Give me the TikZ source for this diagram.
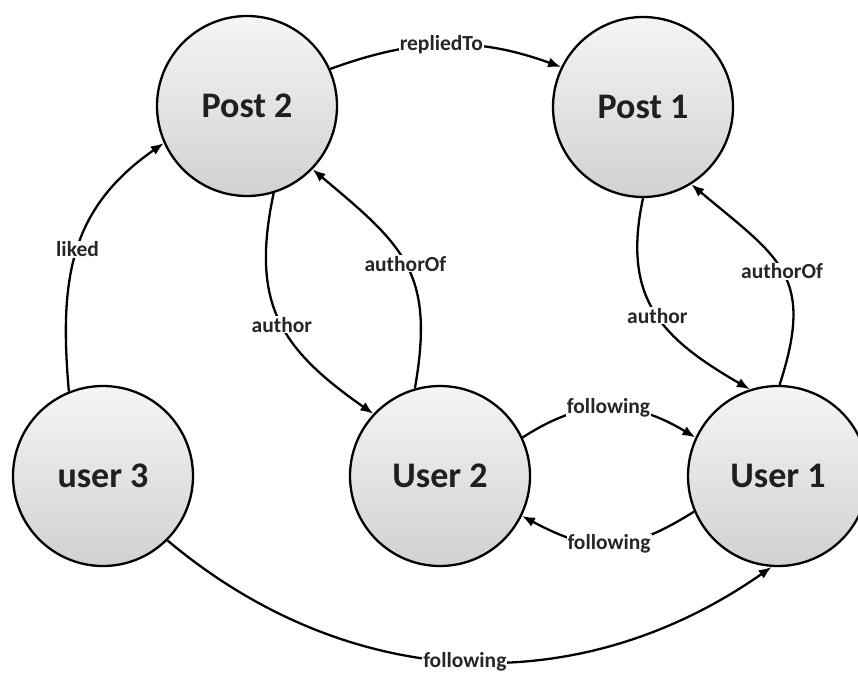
\documentclass[tikz,border=0pt]{standalone}
\usepackage{fontspec}
\setmainfont{Carlito}
\usetikzlibrary{arrows.meta}
\tikzset{
  state/.style={circle, draw=black, line width=2.3pt, minimum size=180pt, inner sep=0pt,
    top color=white!96!black, bottom color=white!82!black, text=black!88,
    font=\fontsize{36}{40}\selectfont\bfseries},
  edge/.style={draw=black, line width=2.3pt, -{Latex[length=13pt,width=10pt]}},
  lbl/.style={fill=white, inner sep=1pt, text=black!85, font=\fontsize{21.5}{23}\selectfont\bfseries}
}
\begin{document}
\begin{tikzpicture}[x=1pt,y=1pt]
\useasboundingbox (0,0) rectangle (858,-679);
\clip (0,0) rectangle (858,-679);
\fill[white] (0,0) rectangle (858,-679);
\node[state] (p2) at (247,-106) {Post 2};
\node[state] (p1) at (643,-107) {Post 1};
\node[state] (u3) at (103,-476) {user 3};
\node[state] (u2) at (440,-476) {User 2};
\node[state] (u1) at (778,-476) {User 1};

\draw[edge] (p2.24) to[out=20,in=160] node[lbl,pos=0.48] {repliedTo} (p1.154);
\draw[edge] (u3.112) to[out=95,in=215,looseness=1.1] node[lbl,pos=0.5] {liked} (p2.204);
\draw[edge] (p2.-73) to[out=-102,in=145,looseness=1.2] node[lbl,pos=0.52] {author} (u2.137);
\draw[edge] (u2.106) to[out=80,in=-40,looseness=1.25] node[lbl,pos=0.5] {authorOf} (p2.-44);
\draw[edge] (p1.-90) to[out=-102,in=150,looseness=1.2] node[lbl,pos=0.52] {author} (u1.108);
\draw[edge] (u1.89) to[out=72,in=-40,looseness=1.35] node[lbl,pos=0.5] {authorOf} (p1.-58);
\draw[edge] (u2.25) to[out=33,in=149,looseness=1.1] node[lbl,pos=0.5] {following} (u1.155);
\draw[edge] (u1.-157) to[out=212,in=-28,looseness=1.2] node[lbl,pos=0.5] {following} (u2.-26);
\draw[edge] (u3.-45) to[out=-40,in=-145] node[lbl,pos=0.5] {following} (u1.-94);
\end{tikzpicture}
\end{document}
